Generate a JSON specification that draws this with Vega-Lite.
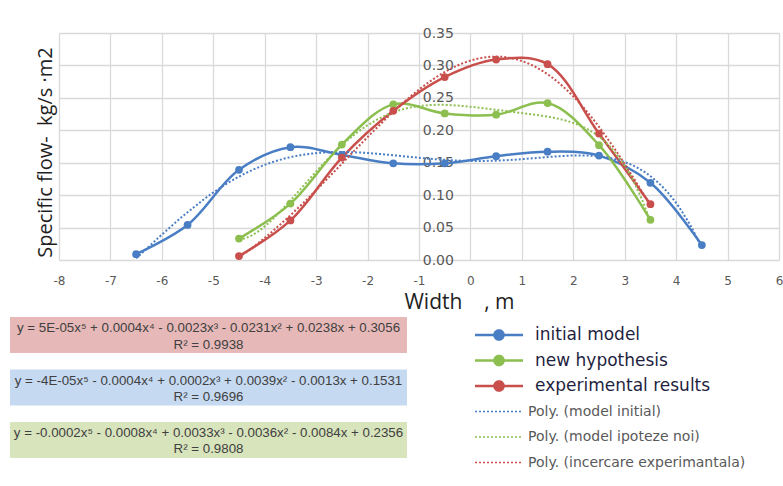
{
  "$schema": "https://vega.github.io/schema/vega-lite/v6.json",
  "width": 720,
  "height": 227,
  "autosize": {"type": "none"},
  "padding": {"left": 59, "top": 33, "right": 4, "bottom": 226},
  "background": "white",
  "config": {
    "view": {"stroke": null},
    "axis": {"gridColor": "#D9D9D9", "gridWidth": 1.3, "labelColor": "#595959", "labelFont": "DejaVu Sans", "titleFont": "Open Sans", "titleColor": "#1F1F1F", "titleFontWeight": "normal"},
    "legend": {"padding": 0}
  },
  "layer": [
    {
      "data": {"values": [
        {"series": "initial model", "trend": "Poly. (model initial)", "x": -6.5, "y": 0.009},
        {"series": "initial model", "trend": "Poly. (model initial)", "x": -5.5, "y": 0.054},
        {"series": "initial model", "trend": "Poly. (model initial)", "x": -4.5, "y": 0.139},
        {"series": "initial model", "trend": "Poly. (model initial)", "x": -3.5, "y": 0.174},
        {"series": "initial model", "trend": "Poly. (model initial)", "x": -2.5, "y": 0.162},
        {"series": "initial model", "trend": "Poly. (model initial)", "x": -1.5, "y": 0.149},
        {"series": "initial model", "trend": "Poly. (model initial)", "x": -0.5, "y": 0.149},
        {"series": "initial model", "trend": "Poly. (model initial)", "x": 0.5, "y": 0.160},
        {"series": "initial model", "trend": "Poly. (model initial)", "x": 1.5, "y": 0.167},
        {"series": "initial model", "trend": "Poly. (model initial)", "x": 2.5, "y": 0.161},
        {"series": "initial model", "trend": "Poly. (model initial)", "x": 3.5, "y": 0.119},
        {"series": "initial model", "trend": "Poly. (model initial)", "x": 4.5, "y": 0.023},
        {"series": "new hypothesis", "trend": "Poly. (model ipoteze noi)", "x": -4.5, "y": 0.033},
        {"series": "new hypothesis", "trend": "Poly. (model ipoteze noi)", "x": -3.5, "y": 0.087},
        {"series": "new hypothesis", "trend": "Poly. (model ipoteze noi)", "x": -2.5, "y": 0.178},
        {"series": "new hypothesis", "trend": "Poly. (model ipoteze noi)", "x": -1.5, "y": 0.240},
        {"series": "new hypothesis", "trend": "Poly. (model ipoteze noi)", "x": -0.5, "y": 0.226},
        {"series": "new hypothesis", "trend": "Poly. (model ipoteze noi)", "x": 0.5, "y": 0.224},
        {"series": "new hypothesis", "trend": "Poly. (model ipoteze noi)", "x": 1.5, "y": 0.242},
        {"series": "new hypothesis", "trend": "Poly. (model ipoteze noi)", "x": 2.5, "y": 0.177},
        {"series": "new hypothesis", "trend": "Poly. (model ipoteze noi)", "x": 3.5, "y": 0.062},
        {"series": "experimental results", "trend": "Poly. (incercare experimantala)", "x": -4.5, "y": 0.006},
        {"series": "experimental results", "trend": "Poly. (incercare experimantala)", "x": -3.5, "y": 0.061},
        {"series": "experimental results", "trend": "Poly. (incercare experimantala)", "x": -2.5, "y": 0.158},
        {"series": "experimental results", "trend": "Poly. (incercare experimantala)", "x": -1.5, "y": 0.230},
        {"series": "experimental results", "trend": "Poly. (incercare experimantala)", "x": -0.5, "y": 0.282},
        {"series": "experimental results", "trend": "Poly. (incercare experimantala)", "x": 0.5, "y": 0.309},
        {"series": "experimental results", "trend": "Poly. (incercare experimantala)", "x": 1.5, "y": 0.302},
        {"series": "experimental results", "trend": "Poly. (incercare experimantala)", "x": 2.5, "y": 0.195},
        {"series": "experimental results", "trend": "Poly. (incercare experimantala)", "x": 3.5, "y": 0.086}
      ]},
      "encoding": {
        "x": {"field": "x", "type": "quantitative",
          "scale": {"domain": [-8, 6], "nice": false, "zero": false},
          "axis": {"values": [-8,-7,-6,-5,-4,-3,-2,-1,0,1,2,3,4,5,6], "domain": false, "ticks": false, "tickSize": 0,
            "labelFlush": false, "labelExpr": "replace(datum.label, '−', '-')",
            "labelPadding": 20, "labelBaseline": "middle", "labelFontSize": 12,
            "title": "Width\u00a0\u00a0\u00a0\u00a0, m", "titleFontSize": 21, "titleX": 400, "titleY": 48, "titleBaseline": "alphabetic", "titleAlign": "center"}},
        "y": {"field": "y", "type": "quantitative",
          "scale": {"domain": [0, 0.35], "nice": false},
          "axis": {"values": [0,0.05,0.1,0.15,0.2,0.25,0.3,0.35], "format": ".2f", "orient": "left", "offset": -411.4,
            "domain": false, "ticks": false, "tickSize": 0, "labelPadding": 17, "labelFontSize": 14,
            "title": "Specific flow-\u00a0\u00a0kg/s ·m2", "titleFontSize": 20, "titleAngle": -90, "titleX": -425.4, "titleY": 119,
            "titleBaseline": "middle", "titleAlign": "center"}}
      },
      "layer": [
        {
          "mark": {"type": "line", "interpolate": "catmull-rom", "strokeWidth": 2.5},
          "encoding": {
            "color": {"field": "series", "type": "nominal",
              "scale": {
                "domain": ["initial model", "new hypothesis", "experimental results", "Poly. (model initial)", "Poly. (model ipoteze noi)", "Poly. (incercare experimantala)"],
                "range": ["#4A7EC4", "#8CBF4F", "#C94F4C", "#4A7EC4", "#8CBF4F", "#C94F4C"]},
              "legend": {
                "title": null, "orient": "none", "legendX": 416, "legendY": 292,
                "symbolSize": 2304, "symbolType": "stroke", "clipHeight": 20, "rowPadding": 5.5,
                "labelOffset": 12, "labelFont": "DejaVu Sans", "labelFontSize": 17, "labelLimit": 400,
                "encode": {
                  "symbols": {"update": {
                    "x": {"value": 24},
                    "shape": {"signal": "datum.index < 3 ? 'M-1,0L1,0M0.19,0A0.19,0.19,0,1,1,-0.19,0A0.19,0.19,0,1,1,0.19,0Z' : 'M-1,0L1,0'"},
                    "size": {"value": 2304},
                    "fill": {"signal": "datum.index < 3 ? scale('color', datum.value) : 'transparent'"},
                    "stroke": {"signal": "scale('color', datum.value)"},
                    "strokeDash": {"signal": "datum.index < 3 ? [1,0] : [2,2]"},
                    "strokeWidth": {"signal": "datum.index < 3 ? 2.5 : 1.6"},
                    "opacity": {"value": 1}
                  }},
                  "labels": {"update": {
                    "x": {"signal": "datum.index < 3 ? 60 : 53"},
                    "fontSize": {"signal": "datum.index < 3 ? 17 : 14"},
                    "fill": {"signal": "datum.index < 3 ? '#1F1F3F' : '#595959'"}
                  }}
                }
              }}
          }
        },
        {
          "transform": [{"regression": "y", "on": "x", "groupby": ["trend"], "method": "poly", "order": 5}],
          "mark": {"type": "line", "strokeDash": [2, 2], "strokeWidth": 2},
          "encoding": {"color": {"field": "trend", "type": "nominal"}}
        },
        {
          "mark": {"type": "circle", "size": 60, "opacity": 1},
          "encoding": {"color": {"field": "series", "type": "nominal"}}
        }
      ]
    },
    {
      "data": {"values": [
        {"series": "experimental results", "eq": "y = 5E-05x⁵ + 0.0004x⁴ - 0.0023x³ - 0.0231x² + 0.0238x + 0.3056", "r2": "R² = 0.9938"},
        {"series": "initial model", "eq": "y = -4E-05x⁵ - 0.0004x⁴ + 0.0002x³ + 0.0039x² - 0.0013x + 0.1531", "r2": "R² = 0.9696"},
        {"series": "new hypothesis", "eq": "y = -0.0002x⁵ - 0.0008x⁴ + 0.0033x³ - 0.0036x² - 0.0084x + 0.2356", "r2": "R² = 0.9808"}
      ]},
      "encoding": {
        "y": {"field": "series", "type": "nominal", "sort": null,
          "scale": {"domain": ["experimental results", "initial model", "new hypothesis"], "range": [284, 425], "paddingInner": 0.314, "paddingOuter": 0},
          "axis": null}
      },
      "layer": [
        {
          "mark": {"type": "rect"},
          "encoding": {
            "x": {"datum": 0, "type": "quantitative", "scale": {"domain": [0, 1], "range": [-49, 348]}, "axis": null},
            "x2": {"datum": 1},
            "fill": {"field": "series", "type": "nominal",
              "scale": {"domain": ["experimental results", "initial model", "new hypothesis"], "range": ["#E6B8B7", "#C5D9F1", "#D8E4BC"]},
              "legend": null}
          }
        },
        {
          "mark": {"type": "text", "dy": -7, "font": "Liberation Sans", "fontSize": 13.3, "color": "#404040"},
          "encoding": {"x": {"datum": 0.5, "type": "quantitative"}, "text": {"field": "eq"}}
        },
        {
          "mark": {"type": "text", "dy": 9.5, "font": "Liberation Sans", "fontSize": 13.3, "color": "#404040"},
          "encoding": {"x": {"datum": 0.5, "type": "quantitative"}, "text": {"field": "r2"}}
        }
      ]
    }
  ],
  "resolve": {"scale": {"x": "independent", "y": "independent"}}
}
